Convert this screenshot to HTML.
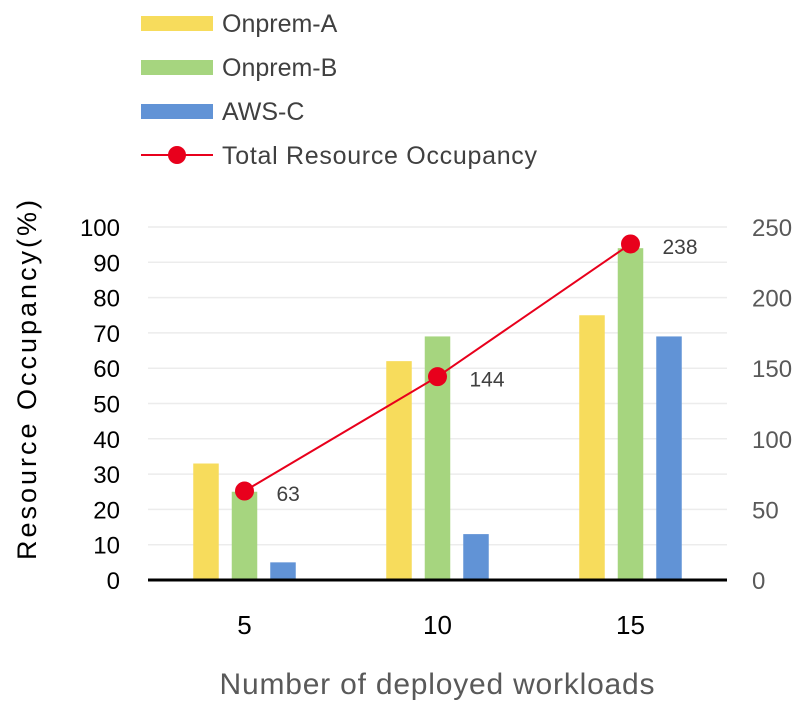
<!DOCTYPE html>
<html><head><meta charset="utf-8"><style>
html,body{margin:0;padding:0;background:#fff;}
svg{display:block;font-family:"Liberation Sans","Noto Sans CJK KR",sans-serif;}
</style></head><body>
<svg id="chart" width="810" height="710" viewBox="0 0 810 710">
<g id="legend">
 <g><rect x="141" y="16" width="72" height="15" fill="#f7dc5c"/><text x="222" y="32" font-size="25" fill="#404040">Onprem-A</text></g>
 <g><rect x="141" y="60" width="72" height="15" fill="#a6d57f"/><text x="222" y="76" font-size="25" fill="#404040">Onprem-B</text></g>
 <g><rect x="141" y="104" width="72" height="15" fill="#6193d6"/><text x="222" y="120" font-size="25" fill="#404040">AWS-C</text></g>
 <g><line x1="141" y1="155" x2="213" y2="155" stroke="#e8001c" stroke-width="2"/><circle cx="177" cy="155" r="9" fill="#e8001c"/><text x="222" y="164" font-size="25" fill="#404040" textLength="315">Total Resource Occupancy</text></g>
</g>
<g id="grid"></g>
<g id="bars"></g>
<g id="axes"></g>
<g id="line"></g>
<text x="36" y="380" font-size="27" fill="#000" text-anchor="middle" transform="rotate(-90 36 380)" textLength="360">Resource Occupancy(%)</text>
<text x="437" y="694" font-size="30" fill="#595959" text-anchor="middle" textLength="435">Number of deployed workloads</text>
</svg>
<script>
const categories = ['5','10','15'];
const onpremA = [33, 62, 75];
const onpremB = [25, 69, 94];
const awsC = [5, 13, 69];
const total = [63, 144, 238];
const leftTicks = [0,10,20,30,40,50,60,70,80,90,100];
const rightTicks = [0,50,100,150,200,250];

const NS='http://www.w3.org/2000/svg';
const y0=580, y1=227, x0=148, x1=727;
const yL=v=>y0-(v/100)*(y0-y1);
const yR=v=>y0-(v/250)*(y0-y1);
const step=(x1-x0)/3;
const xc=i=>x0+step*(i+0.5);
function mk(tag,attrs,parent){const e=document.createElementNS(NS,tag);for(const k in attrs)e.setAttribute(k,attrs[k]);parent.appendChild(e);return e;}
const grid=document.getElementById('grid'),bars=document.getElementById('bars'),axes=document.getElementById('axes'),line=document.getElementById('line');
leftTicks.forEach(t=>{
 if(t>0){const g=mk('line',{x1:x0,x2:x1,y1:yL(t),y2:yL(t),stroke:'#ececec','stroke-width':1.5},grid);
 
 }
 const tx=mk('text',{x:120,y:yL(t)+9,'font-size':24,'text-anchor':'end',fill:'#000'},axes);tx.textContent=t;
 
 
});
rightTicks.forEach(t=>{
 const tx=mk('text',{x:752,y:yR(t)+9,'font-size':24,fill:'#595959'},axes);tx.textContent=t;
 
 
});
const series=[[onpremA,'#f7dc5c','onprem-a'],[onpremB,'#a6d57f','onprem-b'],[awsC,'#6193d6','aws-c']];
const bw=25.5, off=38.5;
categories.forEach((c,i)=>{
 series.forEach((s,j)=>{
  const cx=xc(i)+(j-1)*off;
  const r=mk('rect',{x:cx-bw/2,y:yL(s[0][i]),width:bw,height:y0-yL(s[0][i]),fill:s[1]},bars);
  
  
 });
 const tx=mk('text',{x:xc(i),y:634,'font-size':26,'text-anchor':'middle',fill:'#000'},axes);tx.textContent=c;
 
 
});
const base=mk('line',{x1:x0,x2:x1,y1:y0,y2:y0,stroke:'#000','stroke-width':3},axes);


const pts=total.map((v,i)=>xc(i)+','+yR(v)).join(' ');
const pl=mk('polyline',{points:pts,fill:'none',stroke:'#e8001c','stroke-width':2},line);


total.forEach((v,i)=>{
 const c=mk('circle',{cx:xc(i),cy:yR(v),r:9.5,fill:'#e8001c'},line);
 
 
 const t=mk('text',{x:xc(i)+32,y:yR(v)+10,'font-size':21,fill:'#404040'},line);t.textContent=v;
 
 
});
</script>
</body></html>
